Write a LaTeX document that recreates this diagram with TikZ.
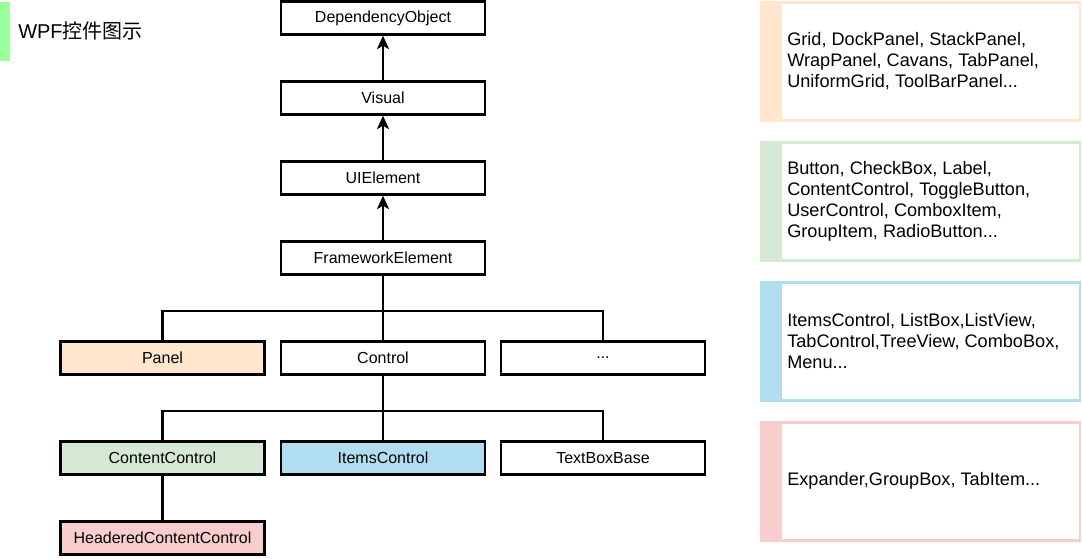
\documentclass[tikz,border=0pt]{standalone}
\usepackage{fontspec}
\setmainfont{Liberation Sans}
\newfontfamily\cjk{Noto Sans CJK SC}
\usepackage{tikz}
\usetikzlibrary{arrows.meta}
\definecolor{panelc}{HTML}{FFE6CC}
\definecolor{contentc}{HTML}{D5E8D4}
\definecolor{itemsc}{HTML}{B1DDF0}
\definecolor{headerc}{HTML}{F8CECC}
\definecolor{titlec}{HTML}{99FF99}
\newcommand{\PW}{321}
\newcommand{\PH}{121}

\begin{document}
\begin{tikzpicture}[x=0.75pt,y=-0.75pt,
    cls/.style={draw=black, line width=2.1pt, fill=white, minimum width=153pt, minimum height=24.5pt,
        inner sep=0pt, font=\fontsize{12}{15}\selectfont},
    note/.style={anchor=west, align=left, inner sep=0pt, font=\fontsize{13.6}{15.75}\selectfont},
    link/.style={line width=2.1pt}]
            \useasboundingbox (0,0) rectangle (1082,558);

            % title
            \fill[titlec] (0,2) rectangle (10,61);
            \node (title) [anchor=west, inner sep=0pt, font=\fontsize{15}{17}\selectfont] at (18,31) {WPF{\cjk 控件图示}};

            % class tree
            \node[cls] (dep) at (383,18) {DependencyObject};
            \node[cls] (vis) at (383,98) {Visual};
            \node[cls] (uie) at (383,178) {UIElement};
            \node[cls] (fwe) at (383,258) {FrameworkElement};
            \node[cls, fill=panelc] (pnl) at (162.5,358) {Panel};
            \node[cls] (ctl) at (383,358) {Control};
            \node[cls] (etc) at (603,358) {...};
            \node[cls, fill=contentc] (cct) at (162.5,458) {ContentControl};
            \node[cls, fill=itemsc] (itc) at (383,458) {ItemsControl};
            \node[cls] (tbb) at (603,458) {TextBoxBase};
            \node[cls, fill=headerc] (hcc) at (162.5,538) {HeaderedContentControl};

            \foreach \a/\b in {vis/dep, uie/vis, fwe/uie}{
            \draw[link, -{Stealth[length=10pt, width=9pt, inset=2.5pt]}] (\a) -- (\b);
            }

            \coordinate (J1) at (383,311);
            \coordinate (J2) at (383,411);
            \draw[link] (pnl) |- (J1) -| (etc);
            \draw[link] (fwe) -- (ctl);
            \draw[link] (cct) |- (J2) -| (tbb);
            \draw[link] (ctl) -- (itc);
            \draw[link] (cct) -- (hcc);

            % side panels
            \foreach \Y/\C in {1/panelc, 141/contentc, 281/itemsc, 421/headerc}{
            \fill[\C] (760,\Y) rectangle (760+\PW,\Y+\PH);
            \draw[\C, line width=1.5pt, fill=white] (781,\Y+2) rectangle (1080,\Y+119);
            }

            \node[note] (N1) at (787,61) {Grid, DockPanel, StackPanel,\\WrapPanel, Cavans, TabPanel,\\UniformGrid, ToolBarPanel...};
            \node[note] (N2) at (787,201) {Button, CheckBox, Label,\\ContentControl, ToggleButton,\\UserControl, ComboxItem,\\GroupItem, RadioButton...};
            \node[note] (N3) at (787,341) {ItemsControl, ListBox,ListView,\\TabControl,TreeView, ComboBox,\\Menu...};
            \node[note] (N4) at (787,481) {Expander,GroupBox, TabItem...};

        \end{tikzpicture}
\end{document}
